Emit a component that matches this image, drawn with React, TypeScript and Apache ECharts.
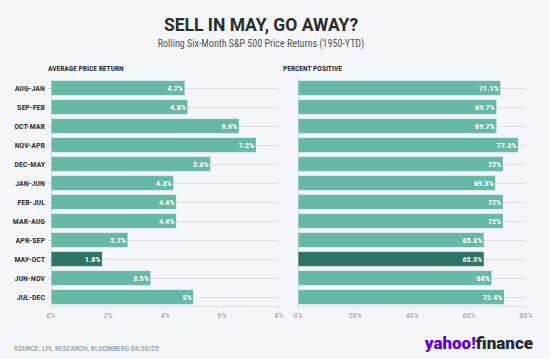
import React, { useEffect, useRef } from "react";
import * as echarts from "echarts";

const categories = ["AUG-JAN", "SEP-FEB", "OCT-MAR", "NOV-APR", "DEC-MAY", "JAN-JUN", "FEB-JUL", "MAR-AUG", "APR-SEP", "MAY-OCT", "JUN-NOV", "JUL-DEC"];
const avgReturn = [4.7, 4.8, 6.6, 7.2, 5.6, 4.3, 4.4, 4.4, 2.7, 1.8, 3.5, 5.0];
const pctPositive = [71.1, 69.7, 69.7, 77.3, 72, 69.3, 72, 72, 65.3, 65.3, 68, 72.4];
const highlightCategory = "MAY-OCT";
const leftTicks = [0, 2, 4, 6, 8];
const rightTicks = [0, 20, 40, 60, 80];

const BAR = "#67b9a6";
const BAR_DARK = "#2e7466";
const FONT = "'Liberation Sans Narrow', 'Roboto Condensed', Roboto, sans-serif";

const labelFmt = (v: number) => {
  const s = Number.isInteger(v) ? String(v) : v.toFixed(1);
  return s + "%";
};

export default function App() {
  const ref = useRef<HTMLDivElement>(null);
  useEffect(() => {
    document.body.style.margin = "0";
    document.body.style.background = "#f4f6f9";
    const chart = echarts.init(ref.current!, null, { renderer: "svg" });
    const mkData = (vals: number[]) =>
      vals.map((v, i) => ({
        value: v,
        itemStyle: { color: categories[i] === highlightCategory ? BAR_DARK : BAR },
      }));
    const gridTop = 78.5;
    const gridH = 228;
    const xAxisCommon = (idx: number, max: number, interval: number) => ({
      type: "value",
      gridIndex: idx,
      min: 0,
      max,
      interval,
      axisLine: { show: true, lineStyle: { color: "#dcdfe3" } },
      axisTick: { show: true, length: 3, lineStyle: { color: "#dcdfe3" } },
      splitLine: { show: false },
      axisLabel: {
        color: "#999",
        fontSize: 8,
        fontFamily: FONT,
        margin: 5,
        formatter: (v: number) => v + "%",
      },
    });
    const yAxisCommon = (idx: number, showLabel: boolean) => ({
      type: "category",
      gridIndex: idx,
      data: categories,
      inverse: true,
      axisLine: { show: true, lineStyle: { color: "#dcdfe3" } },
      axisTick: { show: showLabel, length: 3, alignWithLabel: true, lineStyle: { color: "#cfd3d8" } },
      splitLine: { show: true, alignWithLabel: true, lineStyle: { color: "#dfe2e6", width: 1 } },
      axisLabel: {
        show: showLabel,
        color: "#3a3a3a",
        fontSize: 8,
        fontWeight: "bold",
        fontFamily: FONT,
        margin: 6,
      },
    });
    const barSeries = (idx: number, vals: number[]) => ({
      type: "bar",
      xAxisIndex: idx,
      yAxisIndex: idx,
      data: mkData(vals),
      barWidth: 15,
      itemStyle: { borderColor: "rgba(255,255,255,0.35)", borderWidth: 0.5 },
      label: {
        show: true,
        position: "insideRight",
        distance: 2,
        color: "#fff",
        fontSize: 8,
        fontWeight: "bold",
        fontFamily: FONT,
        formatter: (p: any) => labelFmt(p.value),
      },
    });
    chart.setOption({
      animation: false,
      backgroundColor: "#f4f6f9",
      grid: [
        { left: 51, width: 228, top: gridTop, height: gridH },
        { left: 298, width: 228, top: gridTop, height: gridH },
      ],
      xAxis: [
        xAxisCommon(0, leftTicks[leftTicks.length - 1], leftTicks[1] - leftTicks[0]),
        xAxisCommon(1, rightTicks[rightTicks.length - 1], rightTicks[1] - rightTicks[0]),
      ],
      yAxis: [yAxisCommon(0, true), yAxisCommon(1, false)],
      series: [barSeries(0, avgReturn), barSeries(1, pctPositive)],
      graphic: [
        {
          type: "text",
          x: 261,
          y: 24.5,
          style: {
            text: "SELL IN MAY, GO AWAY?",
            fontSize: 17.5,
            fontWeight: "bold",
            fontFamily: "Roboto, sans-serif",
            fill: "#2b2b2b",
            align: "center",
            verticalAlign: "middle",
          },
        },
        {
          type: "text",
          x: 261,
          y: 43.5,
          style: {
            text: "Rolling Six-Month S&P 500 Price Returns (1950-YTD)",
            fontSize: 10,
            fontFamily: FONT,
            fill: "#555",
            align: "center",
            verticalAlign: "middle",
          },
        },
        {
          type: "text",
          x: 48,
          y: 68,
          style: {
            text: "AVERAGE PRICE RETURN",
            fontSize: 7.5,
            fontWeight: "bold",
            fontFamily: FONT,
            fill: "#333",
            align: "left",
            verticalAlign: "middle",
          },
        },
        {
          type: "text",
          x: 283,
          y: 68,
          style: {
            text: "PERCENT POSITIVE",
            fontSize: 7.5,
            fontWeight: "bold",
            fontFamily: FONT,
            fill: "#333",
            align: "left",
            verticalAlign: "middle",
          },
        },
        {
          type: "text",
          x: 14,
          y: 348,
          style: {
            text: "SOURCE: LPL RESEARCH, BLOOMBERG 04/30/25",
            fontSize: 7.5,
            fontFamily: FONT,
            fill: "#888",
            align: "left",
            verticalAlign: "middle",
          },
        },
        {
          type: "text",
          x: 533,
          y: 343,
          style: {
            text: "{a|yahoo!}{b|finance}",
            align: "right",
            verticalAlign: "middle",
            rich: {
              a: { fontSize: 17, fontWeight: 900, fontFamily: "Roboto, sans-serif", fill: "#6001d2", color: "#6001d2" },
              b: { fontSize: 17, fontWeight: 900, fontFamily: "Roboto, sans-serif", fill: "#232a31", color: "#232a31" },
            },
          },
        },
      ],
    });
    return () => chart.dispose();
  }, []);
  return (
    <div
      ref={ref}
      style={{ position: "fixed", left: 0, top: 0, width: 550, height: 359, background: "#f4f6f9" }}
    />
  );
}
